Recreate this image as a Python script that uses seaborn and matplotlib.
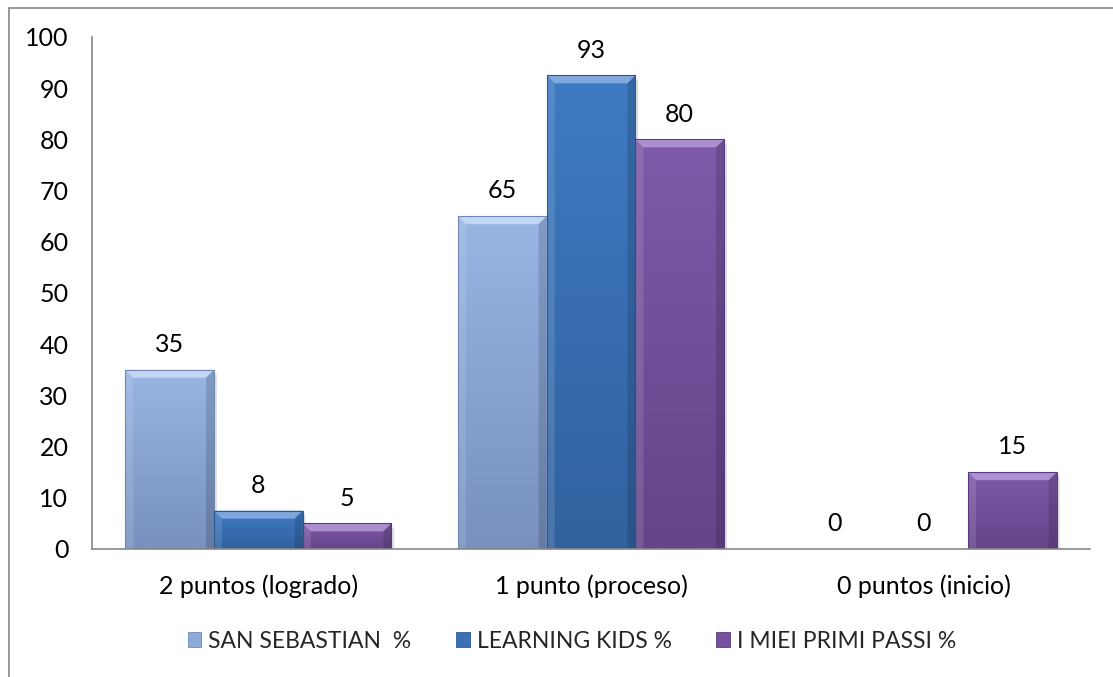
import math
import numpy as np
import pandas as pd
import seaborn as sns
import matplotlib
matplotlib.use("Agg")
import matplotlib.pyplot as plt
from matplotlib.patches import Polygon, Patch
from matplotlib.lines import Line2D
from matplotlib.colors import to_rgb

# ---- data ----
categories = ["2 puntos (logrado)", "1 punto (proceso)", "0 puntos (inicio)"]
series = ["SAN SEBASTIAN  %", "LEARNING KIDS %", "I MIEI PRIMI PASSI %"]
san_sebastian = [35, 65, 0]
learning_kids = [7.5, 92.5, 0]
primi_passi = [5, 80, 15]
y_ticks = [0, 10, 20, 30, 40, 50, 60, 70, 80, 90, 100]

values = [san_sebastian, learning_kids, primi_passi]
df = pd.DataFrame({
    "categoria": [c for s in series for c in categories],
    "serie": [s for s in series for _ in categories],
    "valor": [v for vals in values for v in vals],
})

# ---- style ----
body_top = ["#98B5E3", "#3F7AC2", "#7E5AA8"]
body_bot = ["#7891BE", "#31629F", "#664489"]
bevel_top = ["#C3D6F3", "#7FA8DD", "#AC8ED2"]
edge_col = ["#6F88B3", "#2C5892", "#58397E"]
main_col = ["#8EAADB", "#3A70B6", "#7552A0"]

sns.set_theme(style="white")
plt.rcParams["font.family"] = ["Lato", "DejaVu Sans"]
FS = 18
FS_LEG = 16.5

W, H = 1113, 677
fig = plt.figure(figsize=(W / 100, H / 100), dpi=100)
ax = fig.add_axes([92 / W, 1 - 549 / H, (1090 - 92) / W, (549 - 37) / H])

sns.barplot(data=df, x="categoria", y="valor", hue="serie", order=categories,
            hue_order=series, palette=main_col, width=0.8, ax=ax,
            legend=False, linewidth=0, saturation=1)

ax.set_xlim(-0.5, 2.5)
ax.set_ylim(0, 100)
ax.set_yticks(y_ticks)
ax.set_yticklabels([str(t) for t in y_ticks])
ax.set_xlabel("")
ax.set_ylabel("")
sns.despine(ax=ax, top=True, right=True)
for sp in ["left", "bottom"]:
    ax.spines[sp].set_color("#888888")
    ax.spines[sp].set_linewidth(1.2)
ax.tick_params(axis="y", length=0, pad=17, labelsize=FS, colors="black")
ax.tick_params(axis="x", length=0, pad=18, labelsize=FS, colors="black")

# pixel scale
p0 = ax.transData.transform((0, 0))
p1 = ax.transData.transform((1, 1))
px_x = p1[0] - p0[0]
px_y = p1[1] - p0[1]
bev = 8
dx = bev / px_x

for si, cont in enumerate(ax.containers):
    top_rgb = np.array(to_rgb(body_top[si]))
    bot_rgb = np.array(to_rgb(body_bot[si]))
    for rect in cont:
        x0, y0 = rect.get_x(), rect.get_y()
        w, h = rect.get_width(), rect.get_height()
        if h <= 0:
            continue
        x1, y1 = x0 + w, y0 + h
        # soft shadow to the right
        sh = Polygon([(x1, y0), (x1, y1 - 3 / px_y), (x1 + 3 / px_x, y1 - 5 / px_y),
                      (x1 + 3 / px_x, y0)], closed=True, facecolor="#000000",
                     alpha=0.12, edgecolor="none", zorder=rect.get_zorder() - 0.1)
        ax.add_patch(sh)
        t = np.linspace(0, 1, 64)[:, None]
        grad = (top_rgb * (1 - t) + bot_rgb * t)[:, None, :]
        grad = np.repeat(grad, 2, axis=1)
        im = ax.imshow(grad, extent=[x0, x1, y0, y1], aspect="auto",
                       origin="upper", zorder=rect.get_zorder() + 0.1,
                       interpolation="bilinear")
        im.set_clip_path(rect)
        dy = min(bev / px_y, h / 2.2)
        z = rect.get_zorder() + 0.2
        top = Polygon([(x0, y1), (x1, y1), (x1 - dx, y1 - dy), (x0 + dx, y1 - dy)],
                      closed=True, facecolor=bevel_top[si], edgecolor="none", zorder=z)
        left = Polygon([(x0, y0), (x0, y1), (x0 + dx, y1 - dy), (x0 + dx, y0)],
                       closed=True, facecolor="white", alpha=0.12, edgecolor="none", zorder=z)
        right = Polygon([(x1, y0), (x1, y1), (x1 - dx, y1 - dy), (x1 - dx, y0)],
                        closed=True, facecolor="black", alpha=0.14, edgecolor="none", zorder=z)
        outline = Polygon([(x0, y0), (x0, y1), (x1, y1), (x1, y0)], closed=True,
                          facecolor="none", edgecolor=edge_col[si], linewidth=0.8, zorder=z + 0.1)
        for p in (top, left, right, outline):
            ax.add_patch(p)

ax.set_xlim(-0.5, 2.5)
ax.set_ylim(0, 100)

for si, cont in enumerate(ax.containers):
    labels = [str(math.floor(v + 0.5)) for v in values[si]]
    ax.bar_label(cont, labels=labels, padding=10, fontsize=FS, color="black")

handles = [Patch(facecolor=main_col[i], edgecolor=edge_col[i], linewidth=0.6) for i in range(3)]
fig.legend(handles, series, loc="center", bbox_to_anchor=(572 / W, 1 - 641 / H),
           ncol=3, frameon=False, fontsize=FS_LEG, handlelength=0.6, handleheight=0.6,
           handletextpad=0.3, columnspacing=1.95)

# outer chart frame
fig.add_artist(Line2D([8.5 / W, 8.5 / W], [0, 1 - 7.5 / H], color="#888888", linewidth=1.2))
fig.add_artist(Line2D([8.5 / W, 1], [1 - 7.5 / H, 1 - 7.5 / H], color="#888888", linewidth=1.2))

fig.savefig("out.png", dpi=100)
